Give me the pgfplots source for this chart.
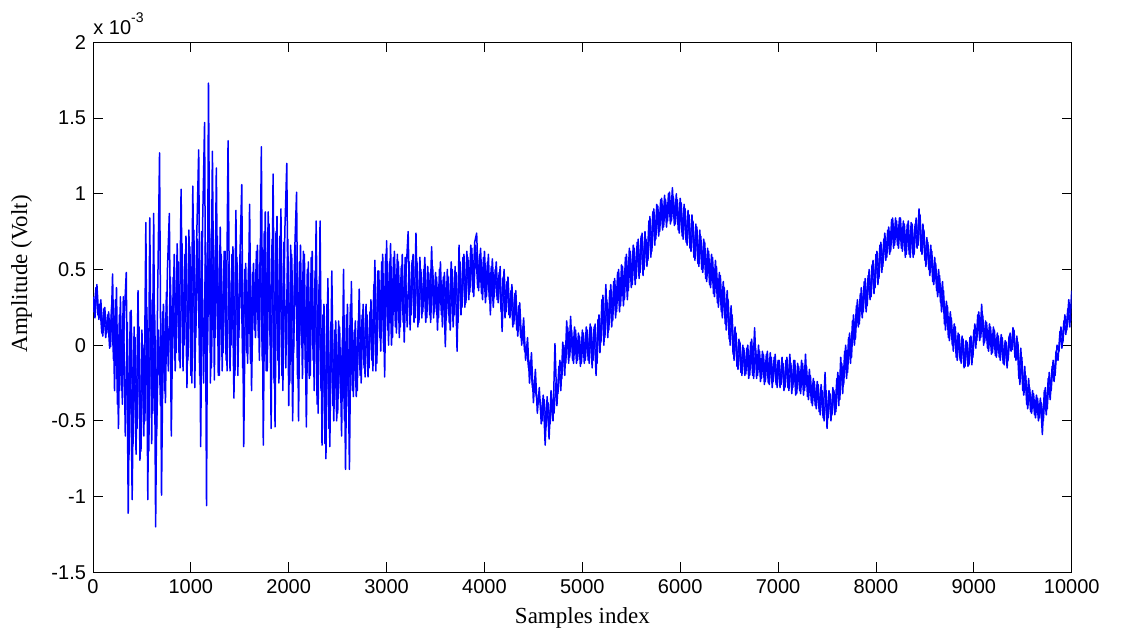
\documentclass[border=0pt]{standalone}
\usepackage{pgfplots}
\pgfplotsset{compat=1.18}
\usepackage{fontspec}
\setmainfont{Liberation Sans}
\newfontfamily\seriffont{Liberation Serif}
\pgfplotstableread{
x y
0 0.32
20 0.18
40 0.40
60 0.17
80 0.30
100 0.06
120 0.25
140 0.08
160 0.22
180 -0.01
200 0.47
220 -0.30
240 0.38
260 -0.55
280 0.32
300 -0.39
320 0.20
340 0.48
360 -1.11
380 0.22
400 -1.02
420 0.12
440 -0.72
460 0.36
480 -0.76
500 0.10
520 -0.60
540 0.81
560 -1.02
580 0.84
600 -0.65
620 0.87
640 -1.20
660 0.30
680 1.27
700 -0.99
720 0.27
740 -0.38
760 0.49
780 0.87
800 -0.60
820 0.45
840 -0.17
860 0.67
880 -0.10
900 1.03
920 -0.17
940 0.60
960 -0.28
980 0.76
1000 -0.20
1020 1.05
1040 -0.28
1060 0.72
1080 1.29
1100 -0.67
1120 0.80
1140 1.47
1160 -1.06
1180 1.73
1200 -0.25
1220 1.28
1240 -0.23
1260 1.17
1280 -0.20
1300 0.78
1320 -0.17
1340 0.62
1360 -0.10
1380 1.35
1400 -0.17
1420 0.60
1440 -0.35
1460 0.89
1480 -0.20
1500 0.55
1520 1.06
1540 -0.67
1560 0.54
1580 -0.12
1600 0.93
1620 -0.30
1640 0.54
1660 0.05
1680 0.66
1700 -0.10
1720 1.31
1740 -0.66
1760 0.88
1780 -0.17
1800 0.80
1820 -0.55
1840 1.13
1860 -0.54
1880 0.85
1900 -0.25
1920 0.90
1940 -0.30
1960 0.75
1980 1.20
2000 -0.40
2020 0.66
2040 -0.50
2060 0.60
2080 1.01
2100 -0.50
2120 0.66
2140 -0.22
2160 0.60
2180 -0.54
2200 0.55
2220 -0.20
2240 0.62
2260 -0.30
2280 0.82
2300 -0.45
2320 0.82
2340 -0.66
2360 0.27
2380 -0.75
2400 0.44
2420 -0.67
2440 0.49
2460 -0.50
2480 0.16
2500 -0.45
2520 0.12
2540 -0.60
2560 0.50
2580 -0.82
2600 0.27
2620 -0.82
2640 0.42
2660 -0.34
2680 0.16
2700 -0.30
2720 0.37
2740 -0.25
2760 0.27
2780 -0.21
2800 0.20
2820 -0.15
2840 0.30
2860 -0.17
2880 0.56
2900 -0.12
2920 0.49
2940 -0.04
2960 0.60
2980 -0.21
3000 0.69
3020 0.00
3040 0.67
3060 0.05
3080 0.62
3100 0.08
3120 0.55
3140 0.12
3160 0.60
3180 0.02
3200 0.50
3220 0.75
3240 0.10
3260 0.56
3280 0.15
3300 0.74
3320 0.12
3340 0.58
3360 0.18
3380 0.50
3400 0.15
3420 0.52
3440 0.20
3460 0.65
3480 0.18
3500 0.48
3520 0.10
3540 0.50
3560 0.20
3580 0.45
3600 -0.01
3620 0.50
3640 0.15
3660 0.55
3680 0.12
3700 0.52
3720 -0.04
3740 0.66
3760 0.20
3780 0.58
3800 0.25
3820 0.62
3840 0.30
3860 0.66
3880 0.35
3900 0.68
3920 0.74
3940 0.36
3960 0.64
3980 0.30
4000 0.62
4020 0.32
4040 0.60
4060 0.20
4080 0.57
4100 0.32
4120 0.55
4140 0.28
4160 0.52
4180 0.09
4200 0.50
4220 0.22
4240 0.45
4260 0.18
4280 0.40
4300 0.14
4320 0.36
4340 0.06
4360 0.28
4380 0.00
4400 0.18
4420 -0.10
4440 0.05
4460 -0.25
4480 -0.05
4500 -0.38
4520 -0.16
4540 -0.45
4560 -0.28
4580 -0.52
4600 -0.33
4620 -0.66
4640 -0.34
4660 -0.62
4680 -0.30
4700 -0.50
4720 0.01
4740 -0.40
4760 -0.14
4780 -0.30
4800 0.02
4820 -0.20
4840 0.16
4860 -0.12
4880 0.19
4900 -0.10
4920 0.12
4940 -0.12
4960 0.08
4980 -0.14
5000 0.10
5020 -0.12
5040 0.12
5060 -0.10
5080 0.14
5100 -0.15
5120 0.12
5140 -0.20
5160 0.17
5180 -0.05
5200 0.30
5220 0.00
5240 0.40
5260 0.05
5280 0.36
5300 0.12
5320 0.42
5340 0.18
5360 0.48
5380 0.22
5400 0.53
5420 0.26
5440 0.58
5460 0.30
5480 0.64
5500 0.38
5520 0.66
5540 0.40
5560 0.68
5580 0.44
5600 0.72
5620 0.46
5640 0.75
5660 0.52
5680 0.82
5700 0.58
5720 0.88
5740 0.66
5760 0.93
5780 0.72
5800 0.96
5820 0.76
5840 0.99
5860 0.78
5880 1.00
5900 0.80
5920 1.04
5940 0.79
5960 1.00
5980 0.76
6000 0.97
6020 0.72
6040 0.93
6060 0.68
6080 0.89
6100 0.64
6120 0.86
6140 0.58
6160 0.80
6180 0.54
6200 0.76
6220 0.50
6240 0.70
6260 0.44
6280 0.64
6300 0.40
6320 0.60
6340 0.34
6360 0.56
6380 0.28
6400 0.48
6420 0.22
6440 0.42
6460 0.14
6480 0.36
6500 0.04
6520 0.26
6540 -0.06
6560 0.12
6580 -0.14
6600 0.04
6620 -0.18
6640 0.00
6660 -0.20
6680 -0.02
6700 -0.22
6720 0.02
6740 -0.20
6760 0.115
6780 -0.22
6800 0.00
6820 -0.24
6840 -0.04
6860 -0.26
6880 -0.06
6900 -0.25
6920 -0.05
6940 -0.28
6960 -0.08
6980 -0.26
7000 -0.10
7020 -0.28
7040 -0.08
7060 -0.30
7080 -0.10
7100 -0.28
7120 -0.06
7140 -0.32
7160 -0.10
7180 -0.33
7200 -0.12
7220 -0.30
7240 -0.10
7260 -0.33
7280 -0.06
7300 -0.34
7320 -0.16
7340 -0.38
7360 -0.22
7380 -0.40
7400 -0.24
7420 -0.44
7440 -0.26
7460 -0.48
7480 -0.18
7500 -0.55
7520 -0.30
7540 -0.50
7560 -0.28
7580 -0.46
7600 -0.22
7620 -0.40
7640 -0.08
7660 -0.32
7680 -0.04
7700 -0.22
7720 0.05
7740 -0.12
7760 0.16
7780 0.00
7800 0.26
7820 0.12
7840 0.34
7860 0.18
7880 0.42
7900 0.22
7920 0.46
7940 0.30
7960 0.53
7980 0.34
8000 0.60
8020 0.40
8040 0.66
8060 0.48
8080 0.70
8100 0.56
8120 0.76
8140 0.60
8160 0.83
8180 0.64
8200 0.84
8220 0.66
8240 0.84
8260 0.64
8280 0.82
8300 0.58
8320 0.80
8340 0.60
8360 0.81
8380 0.58
8400 0.80
8420 0.64
8440 0.90
8460 0.62
8480 0.80
8500 0.56
8520 0.71
8540 0.50
8560 0.66
8580 0.42
8600 0.58
8620 0.36
8640 0.50
8660 0.28
8680 0.42
8700 0.14
8720 0.29
8740 0.05
8760 0.22
8780 0.00
8800 0.14
8820 -0.08
8840 0.08
8860 -0.10
8880 0.06
8900 -0.15
8920 0.03
8940 -0.14
8960 0.05
8980 -0.13
9000 0.10
9020 -0.02
9040 0.20
9060 0.03
9080 0.27
9100 0.00
9120 0.16
9140 -0.02
9160 0.14
9180 -0.06
9200 0.12
9220 -0.07
9240 0.08
9260 -0.08
9280 0.07
9300 -0.12
9320 0.03
9340 -0.15
9360 0.06
9380 -0.04
9400 0.115
9420 -0.08
9440 0.06
9460 -0.22
9480 -0.02
9500 -0.30
9520 -0.14
9540 -0.39
9560 -0.22
9580 -0.44
9600 -0.30
9620 -0.46
9640 -0.33
9660 -0.50
9680 -0.35
9700 -0.59
9720 -0.30
9740 -0.46
9760 -0.22
9780 -0.36
9800 -0.14
9820 -0.24
9840 -0.04
9860 -0.10
9880 0.09
9900 -0.02
9920 0.16
9940 0.07
9960 0.24
9980 0.12
10000 0.36
}\signalA
\pgfplotstableread{
x y
10 0.22
30 0.38
50 0.20
70 0.27
90 0.08
110 0.24
130 0.05
150 0.20
170 -0.02
190 0.25
210 -0.10
230 0.30
250 -0.39
270 0.20
290 -0.30
310 0.32
330 -0.60
350 0.15
370 -0.72
390 0.23
410 -0.65
430 0.05
450 -0.55
470 0.12
490 -0.70
510 0.00
530 -0.50
550 0.25
570 -0.70
590 0.30
610 -0.45
630 0.20
650 -0.60
670 0.10
690 -0.40
710 0.22
730 -0.30
750 0.35
770 -0.17
790 0.45
810 -0.10
830 0.60
850 -0.05
870 0.55
890 -0.15
910 0.67
930 0.00
950 0.72
970 -0.10
990 0.65
1010 -0.25
1030 0.76
1050 0.05
1070 0.70
1090 -0.20
1110 0.75
1130 -0.25
1150 0.68
1170 0.00
1190 0.75
1210 -0.15
1230 0.70
1250 0.05
1270 0.72
1290 -0.20
1310 0.60
1330 -0.05
1350 0.62
1370 -0.17
1390 0.55
1410 0.00
1430 0.65
1450 -0.20
1470 0.58
1490 0.05
1510 0.62
1530 -0.15
1550 0.50
1570 -0.05
1590 0.54
1610 -0.12
1630 0.48
1650 0.10
1670 0.62
1690 0.05
1710 0.66
1730 -0.10
1750 0.75
1770 -0.17
1790 0.88
1810 0.00
1830 0.70
1850 -0.25
1870 0.75
1890 -0.10
1910 0.72
1930 -0.20
1950 0.68
1970 -0.15
1990 0.70
2010 -0.25
2030 0.60
2050 -0.05
2070 0.66
2090 -0.22
2110 0.55
2130 0.00
2150 0.62
2170 -0.15
2190 0.50
2210 -0.22
2230 0.58
2250 -0.10
2270 0.49
2290 -0.39
2310 0.40
2330 -0.30
2350 0.20
2370 -0.65
2390 0.27
2410 -0.55
2430 0.15
2450 -0.40
2470 0.10
2490 -0.50
2510 0.16
2530 -0.35
2550 0.05
2570 -0.50
2590 0.20
2610 -0.40
2630 0.27
2650 -0.30
2670 0.10
2690 -0.34
2710 0.16
2730 -0.20
2750 0.20
2770 -0.15
2790 0.27
2810 -0.21
2830 0.22
2850 -0.10
2870 0.40
2890 -0.17
2910 0.49
2930 0.05
2950 0.55
2970 -0.04
2990 0.60
3010 0.10
3030 0.55
3050 0.00
3070 0.58
3090 0.12
3110 0.60
3130 0.05
3150 0.52
3170 0.15
3190 0.58
3210 0.12
3230 0.55
3250 0.20
3270 0.60
3290 0.18
3310 0.55
3330 0.15
3350 0.50
3370 0.22
3390 0.58
3410 0.18
3430 0.48
3450 0.15
3470 0.52
3490 0.22
3510 0.45
3530 0.18
3550 0.55
3570 0.12
3590 0.48
3610 0.18
3630 0.45
3650 0.10
3670 0.50
3690 0.20
3710 0.48
3730 0.15
3750 0.55
3770 0.25
3790 0.60
3810 0.28
3830 0.58
3850 0.35
3870 0.64
3890 0.32
3910 0.66
3930 0.38
3950 0.60
3970 0.34
3990 0.58
4010 0.28
4030 0.55
4050 0.30
4070 0.52
4090 0.25
4110 0.50
4130 0.30
4150 0.48
4170 0.22
4190 0.45
4210 0.18
4230 0.42
4250 0.20
4270 0.36
4290 0.12
4310 0.34
4330 0.10
4350 0.26
4370 0.05
4390 0.12
4410 -0.04
4430 0.00
4450 -0.15
4470 -0.10
4490 -0.28
4510 -0.25
4530 -0.34
4550 -0.38
4570 -0.36
4590 -0.50
4610 -0.36
4630 -0.54
4650 -0.38
4670 -0.52
4690 -0.36
4710 -0.45
4730 -0.25
4750 -0.32
4770 -0.10
4790 -0.22
4810 0.00
4830 -0.12
4850 0.12
4870 -0.08
4890 0.10
4910 -0.12
4930 0.10
4950 -0.10
4970 0.06
4990 -0.12
5010 0.08
5030 -0.10
5050 0.10
5070 -0.12
5090 0.12
5110 -0.10
5130 0.14
5150 -0.12
5170 0.20
5190 0.02
5210 0.33
5230 0.05
5250 0.30
5270 0.10
5290 0.40
5310 0.16
5330 0.44
5350 0.22
5370 0.50
5390 0.26
5410 0.52
5430 0.30
5450 0.60
5470 0.36
5490 0.62
5510 0.40
5530 0.64
5550 0.44
5570 0.70
5590 0.48
5610 0.74
5630 0.50
5650 0.70
5670 0.56
5690 0.85
5710 0.62
5730 0.90
5750 0.70
5770 0.92
5790 0.75
5810 0.97
5830 0.78
5850 0.96
5870 0.82
5890 1.01
5910 0.82
5930 0.98
5950 0.80
5970 0.96
5990 0.74
6010 0.94
6030 0.70
6050 0.90
6070 0.66
6090 0.86
6110 0.62
6130 0.82
6150 0.56
6170 0.78
6190 0.52
6210 0.72
6230 0.48
6250 0.68
6270 0.42
6290 0.62
6310 0.38
6330 0.58
6350 0.32
6370 0.52
6390 0.25
6410 0.46
6430 0.18
6450 0.38
6470 0.10
6490 0.30
6510 0.00
6530 0.20
6550 -0.10
6570 0.08
6590 -0.16
6610 0.02
6630 -0.20
6650 -0.02
6670 -0.19
6690 0.00
6710 -0.20
6730 0.04
6750 -0.22
6770 -0.02
6790 -0.20
6810 -0.04
6830 -0.22
6850 -0.06
6870 -0.24
6890 -0.04
6910 -0.26
6930 -0.08
6950 -0.24
6970 -0.06
6990 -0.28
7010 -0.10
7030 -0.26
7050 -0.12
7070 -0.28
7090 -0.08
7110 -0.30
7130 -0.12
7150 -0.28
7170 -0.10
7190 -0.32
7210 -0.14
7230 -0.32
7250 -0.12
7270 -0.30
7290 -0.14
7310 -0.36
7330 -0.20
7350 -0.40
7370 -0.24
7390 -0.42
7410 -0.26
7430 -0.46
7450 -0.30
7470 -0.50
7490 -0.30
7510 -0.48
7530 -0.32
7550 -0.46
7570 -0.30
7590 -0.44
7610 -0.18
7630 -0.36
7650 -0.12
7670 -0.26
7690 0.00
7710 -0.18
7730 0.08
7750 -0.08
7770 0.20
7790 0.04
7810 0.30
7830 0.14
7850 0.38
7870 0.22
7890 0.44
7910 0.26
7930 0.50
7950 0.32
7970 0.56
7990 0.38
8010 0.62
8030 0.44
8050 0.68
8070 0.52
8090 0.74
8110 0.58
8130 0.78
8150 0.62
8170 0.84
8190 0.66
8210 0.82
8230 0.64
8250 0.84
8270 0.62
8290 0.80
8310 0.60
8330 0.82
8350 0.58
8370 0.80
8390 0.60
8410 0.84
8430 0.66
8450 0.86
8470 0.60
8490 0.76
8510 0.52
8530 0.68
8550 0.46
8570 0.62
8590 0.40
8610 0.54
8630 0.32
8650 0.46
8670 0.22
8690 0.36
8710 0.10
8730 0.26
8750 0.03
8770 0.18
8790 -0.04
8810 0.12
8830 -0.10
8850 0.07
8870 -0.12
8890 0.04
8910 -0.14
8930 0.02
8950 -0.13
8970 0.06
8990 -0.08
9010 0.14
9030 0.03
9050 0.22
9070 0.05
9090 0.20
9110 0.02
9130 0.15
9150 -0.04
9170 0.12
9190 -0.05
9210 0.10
9230 -0.08
9250 0.06
9270 -0.10
9290 0.05
9310 -0.13
9330 0.02
9350 -0.10
9370 0.08
9390 -0.03
9410 0.10
9430 -0.10
9450 0.02
9470 -0.26
9490 -0.08
9510 -0.33
9530 -0.20
9550 -0.42
9570 -0.28
9590 -0.45
9610 -0.32
9630 -0.48
9650 -0.35
9670 -0.48
9690 -0.38
9710 -0.50
9730 -0.28
9750 -0.42
9770 -0.18
9790 -0.30
9810 -0.10
9830 -0.20
9850 0.00
9870 -0.04
9890 0.12
9910 0.02
9930 0.20
9950 0.10
9970 0.30
9990 0.16
}\signalB
\begin{document}
\begin{tikzpicture}
\begin{axis}[
  scale only axis, width=489.35pt, height=265pt,
  xmin=0, xmax=10000, ymin=-1.5, ymax=2,
  scaled x ticks=false, scaled y ticks=false,
  xtick={0,1000,2000,3000,4000,5000,6000,7000,8000,9000,10000},
  xticklabels={0,1000,2000,3000,4000,5000,6000,7000,8000,9000,10000},
  ytick={-1.5,-1,-0.5,0,0.5,1,1.5,2},
  yticklabels={-1.5,-1,-0.5,0,0.5,1,1.5,2},
  tick align=inside, major tick length=5pt,
  tick style={black, line width=0.4pt},
  axis line style={black, line width=0.5pt},
  ticklabel style={font=\fontsize{10}{12}\selectfont},
  label style={font=\seriffont\fontsize{11.5}{13}\selectfont},
  xlabel={Samples index}, ylabel={Amplitude (Volt)},
  ylabel style={at={(axis description cs:-0.073,0.563)}, anchor=center},
  clip mode=individual,
]
\addplot[blue, line width=0.75pt, line join=round, mark=none] table[x=x, y=y] {\signalB};
\addplot[blue, line width=0.75pt, line join=round, mark=none] table[x=x, y=y] {\signalA};
\node[anchor=base west, inner sep=0pt, font=\fontsize{10}{12}\selectfont] at (rel axis cs:0,1) [yshift=4pt] {x 10\raisebox{6pt}{\fontsize{7}{8}\selectfont -3}};
\end{axis}
\pgfresetboundingbox
\useasboundingbox (-46.5pt,-35.35pt) rectangle (517pt,286.15pt);
\end{tikzpicture}
\end{document}
